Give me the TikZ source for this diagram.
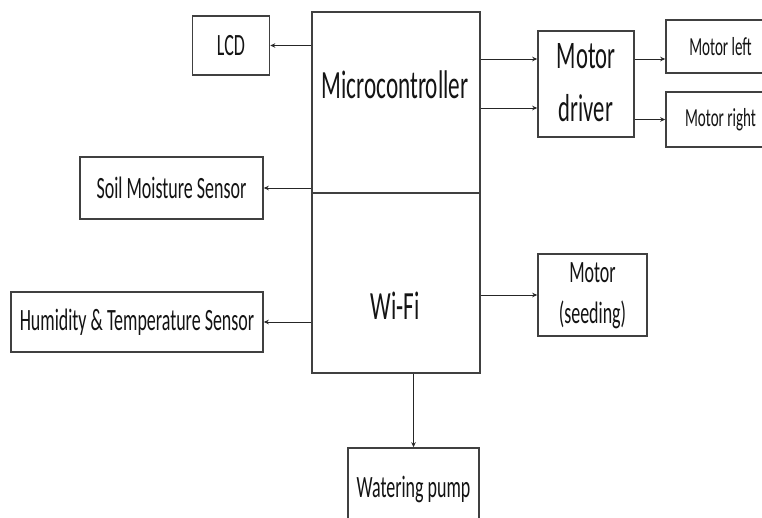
\documentclass[tikz,border=0pt]{standalone}
\usepackage{fontspec}
\setmainfont{Carlito}
\usepackage{graphicx}
\usetikzlibrary{arrows.meta}
\newcommand\sqz[1]{\scalebox{0.58}[1]{#1}}
\newcommand\fbig{\fontsize{40}{48}\selectfont}
\newcommand\fdrv{\fontsize{39}{53}\selectfont}
\newcommand\fmid{\fontsize{31}{41}\selectfont}
\newcommand\fsml{\fontsize{26}{31}\selectfont}
\begin{document}
\begin{tikzpicture}[x=1pt,y=1pt,
  box/.style={draw=black!75, line width=1.6pt, inner sep=0pt, text=black!92, fill=white},
  lbl/.style={inner sep=0pt, text=black!92},
  arr/.style={draw=black!85, line width=0.9pt, -{Stealth[length=5pt,width=4.5pt]}}]
\clip (0,0) rectangle (762,-517);
\fill[white] (0,0) rectangle (762,-517);
% main blocks
\node[box, minimum width=168, minimum height=181] (mc) at (396,-102.5) {};
\node[box, minimum width=168, minimum height=180] (wifi) at (396,-283) {};
\node[lbl, font=\fbig] (mct) at (395,-85) {\sqz{Microcontroller}};
\node[lbl, font=\fbig] (wft) at (395,-306) {\sqz{Wi-Fi}};
% left side
\node[box, minimum width=77, minimum height=59, font=\fmid] (lcd) at (231,-45.5) {\sqz{LCD}};
\node[box, minimum width=183, minimum height=62, font=\fmid] (soil) at (171.5,-188) {\sqz{Soil Moisture Sensor}};
\node[box, minimum width=252, minimum height=60, font=\fmid] (hum) at (137,-322) {\sqz{Humidity \& Temperature Sensor}};
% right side
\node[box, minimum width=96, minimum height=98, font=\fdrv] (drv) at (586,-84) {\sqz{\begin{tabular}{@{}c@{}}Motor\\[0pt]driver\end{tabular}}};
\node[box, minimum width=109, minimum height=53, font=\fsml] (ml) at (720.5,-46.5) {\sqz{Motor left}};
\node[box, minimum width=109, minimum height=55, font=\fsml] (mr) at (720.5,-119.5) {\sqz{Motor right}};
\node[box, minimum width=109, minimum height=78, font=\fmid] (seed) at (592.5,-295) {\sqz{\begin{tabular}{@{}c@{}}Motor\\[0pt](seeding)\end{tabular}}};
\node[box, minimum width=131, minimum height=82, font=\fmid] (pump) at (413.5,-489) {\sqz{Watering pump}};
% connector anchors
\coordinate (d1) at (538,-59);
\coordinate (d2) at (538,-108);
% connectors
\draw[arr] (lcd.east -| mc.west) -- (lcd.east);
\draw[arr] (soil.east -| mc.west) -- (soil.east);
\draw[arr] (hum.east -| wifi.west) -- (hum.east);
\draw[arr] (d1 -| mc.east) -- (drv.west |- d1);
\draw[arr] (d2 -| mc.east) -- (drv.west |- d2);
\draw[arr] (drv.east |- d1) -- (ml.west |- d1);
\draw[arr] (drv.east |- mr.west) -- (mr.west);
\draw[arr] (seed.west -| wifi.east) -- (seed.west);
\draw[arr] (wifi.south -| pump.north) -- (pump.north);
\end{tikzpicture}
\end{document}
